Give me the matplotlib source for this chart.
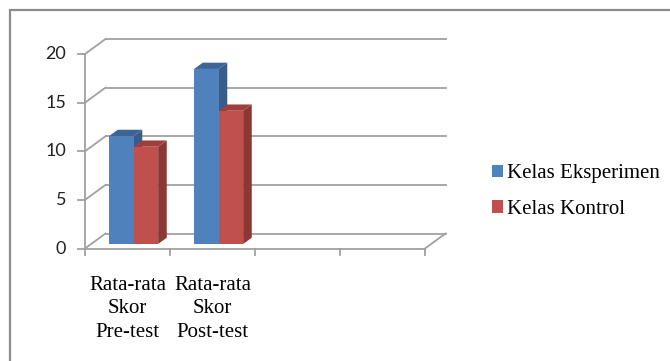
import matplotlib.pyplot as plt
from matplotlib.patches import Polygon, Patch, Rectangle

categories = ['Rata-rata\nSkor\nPre-test', 'Rata-rata\nSkor\nPost-test', '', '']
series_names = ['Kelas Eksperimen', 'Kelas Kontrol']
eksperimen = [11.1, 18.0]
kontrol = [10.0, 13.7]
yticks = [0, 5, 10, 15, 20]

front_colors = ['#4F81BD', '#C0504D']
top_colors = ['#3C6597', '#9E3F3C']
side_colors = ['#385D8A', '#8A3735']
grid_color = '#A0A0A0'

W, H = 670, 361
fig = plt.figure(figsize=(W / 100, H / 100), dpi=100)
ax = fig.add_axes([0, 0, 1, 1])
ax.set_axis_off()

# front plane of the 3d box, in pixels from the top left
px_left, px_right = 85, 425
px_zero, px_top = 248.5, 54
n_cat = len(categories)
sx = (px_right - px_left) / n_cat
sy = (px_zero - px_top) / yticks[-1]
ax.set_xlim(-px_left / sx, (W - px_left) / sx)
ax.set_ylim(-(H - px_zero) / sy, px_zero / sy)

# oblique depth offset (back wall vs front plane)
DX = 20.5 / sx
DY = 15 / sy


def proj(x, y, d):
    return x + d * DX, y + d * DY


# back wall gridlines + side wall diagonals
for v in yticks:
    (xa, ya), (xb, yb) = proj(0, v, 1), proj(n_cat, v, 1)
    ax.plot([xa, xb], [ya, yb], color=grid_color, lw=1.3, zorder=1)
    xf, yf = proj(0, v, 0)
    ax.plot([xf, xa], [yf, ya], color=grid_color, lw=1.3, zorder=1)
    # tick on the front axis
    ax.plot([-7 / sx, 0], [v, v], color=grid_color, lw=1.3, zorder=1)
    ax.text(-19 / sx, v, str(v), ha='right', va='center',
            family='Lato', fontsize=13, color='#222222')

# floor right edge, front axis lines
(xa, ya), (xb, yb) = proj(n_cat, 0, 0), proj(n_cat, 0, 1)
ax.plot([xa, xb], [ya, yb], color=grid_color, lw=1.3, zorder=1)
ax.plot([0, n_cat], [0, 0], color=grid_color, lw=1.3, zorder=1)
ax.plot([0, 0], [0, yticks[-1]], color=grid_color, lw=1.3, zorder=1)
for k in range(n_cat + 1):
    ax.plot([k, k], [0, -6 / sy], color=grid_color, lw=1.3, zorder=1)

# 3d bars
bw = 24.5 / sx
d0, d1 = 0.3, 0.72
z = 3
for j in range(len(eksperimen)):
    for i, vals in enumerate([eksperimen, kontrol]):
        v = vals[j]
        x0 = j + 0.5 - bw + i * bw
        x1 = x0 + bw
        side = [proj(x1, 0, d0), proj(x1, 0, d1), proj(x1, v, d1), proj(x1, v, d0)]
        top = [proj(x0, v, d0), proj(x1, v, d0), proj(x1, v, d1), proj(x0, v, d1)]
        front = [proj(x0, 0, d0), proj(x1, 0, d0), proj(x1, v, d0), proj(x0, v, d0)]
        ax.add_patch(Polygon(side, closed=True, facecolor=side_colors[i], edgecolor='none', zorder=z))
        ax.add_patch(Polygon(top, closed=True, facecolor=top_colors[i], edgecolor='none', zorder=z))
        ax.add_patch(Polygon(front, closed=True, facecolor=front_colors[i], edgecolor='none', zorder=z + 1))
        z += 2

# category labels
for k, lab in enumerate(categories):
    if lab:
        ax.text(k + 0.5, -27 / sy, lab, ha='center', va='top', linespacing=1.33,
                family='Liberation Serif', fontsize=15, color='black')

handles = [Patch(facecolor=c, edgecolor='none') for c in front_colors]
ax.legend(handles, series_names, loc='center left', bbox_to_anchor=(492 / W, 1 - 191.5 / H),
          bbox_transform=fig.transFigure, frameon=False,
          prop={'family': 'Liberation Serif', 'size': 15},
          handlelength=0.55, handleheight=0.55, handletextpad=0.15,
          labelspacing=0.8, borderpad=0, borderaxespad=0)

# chart area border
fig.add_artist(Rectangle((10 / W, -0.1), 1.0, 1.1 - 10 / H, transform=fig.transFigure,
                         fill=False, edgecolor='#8C8C8C', lw=1.6))

fig.savefig('out.png', dpi=100)
